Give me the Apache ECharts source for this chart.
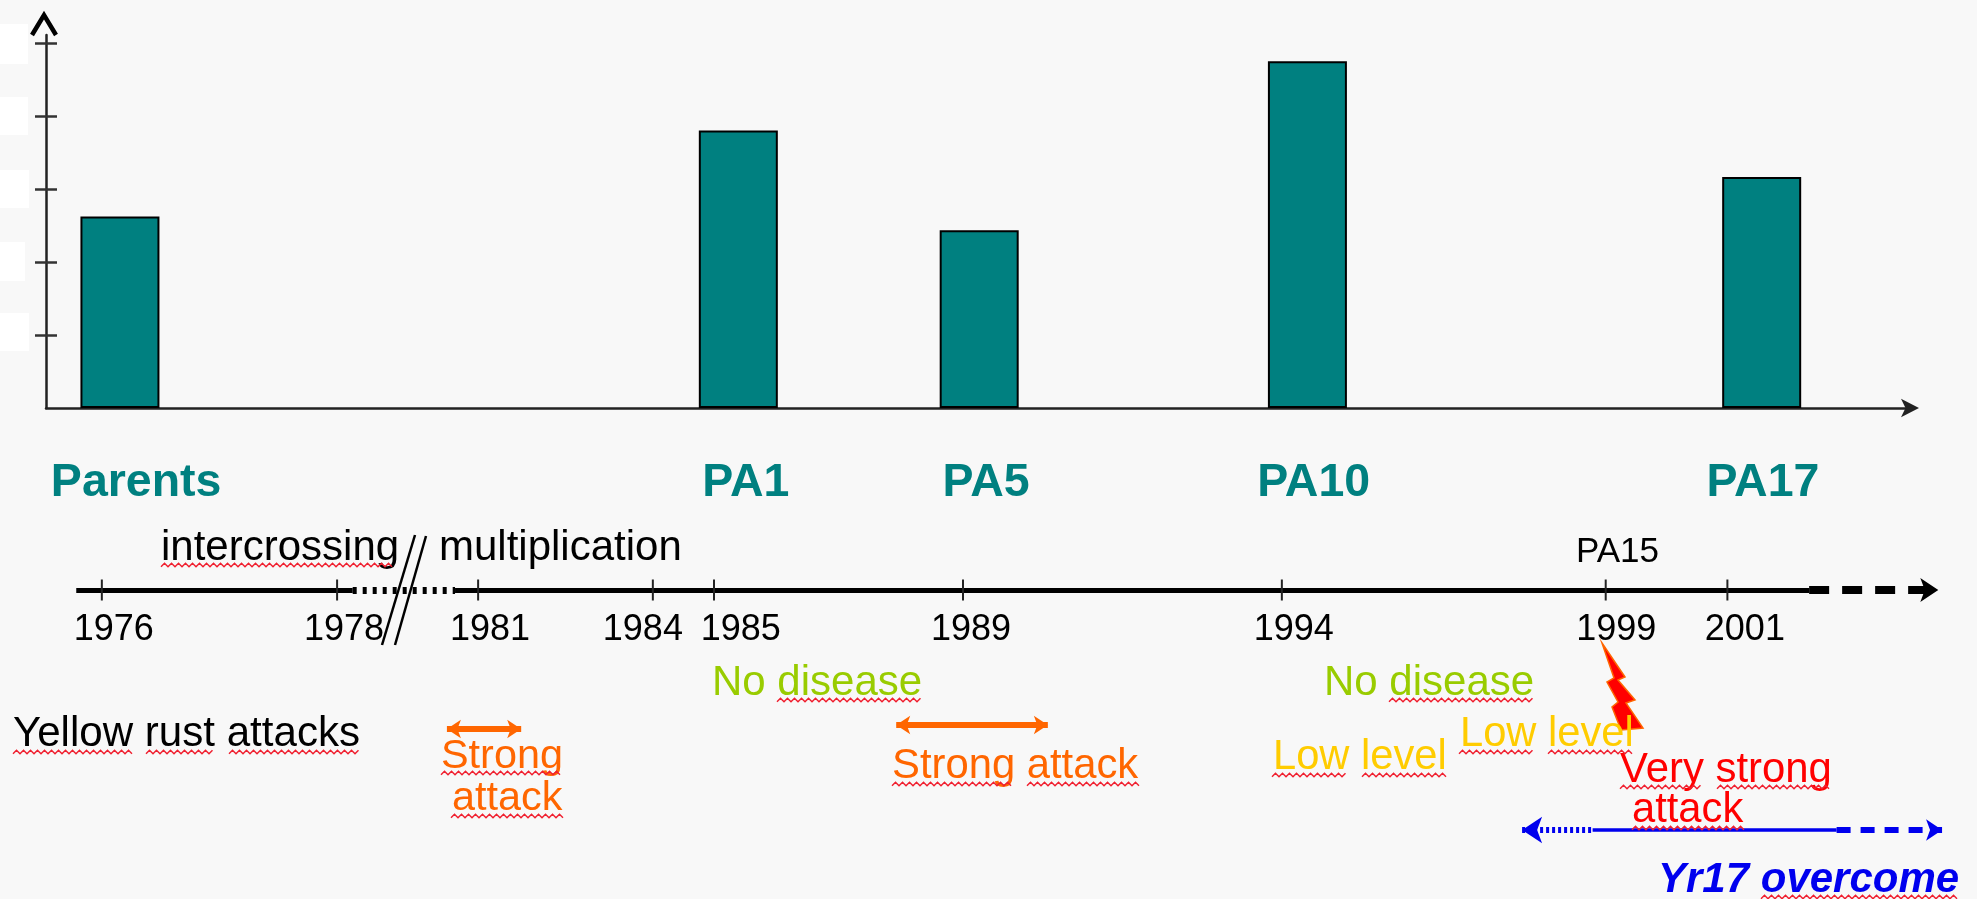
<!DOCTYPE html>
<html>
<head>
<meta charset="utf-8">
<style>
  html, body { margin: 0; padding: 0; background: #f8f8f8; }
  #chart { width: 1977px; height: 899px; }
  /* the reference is a soft screenshot */
  #chart canvas { filter: blur(0.6px); }
</style>
<script src="https://cdn.jsdelivr.net/npm/echarts@6/dist/echarts.min.js"></script>
</head>
<body>
<div id="chart"></div>
<script>
// bars, x read in years on the linear part of the time axis
const generations = ['Parents', 'PA1', 'PA5', 'PA10', 'PA17'];
const generationYears = [1975.48, 1985.39, 1989.25, 1994.51, 2001.79];
const generationValues = [2.63, 3.81, 2.44, 4.76, 3.17];
const generationLabelYears = [1975.74, 1985.51, 1989.36, 1994.61, 2001.81];

// timeline ticks (the axis is hand drawn, so ticks do not fall exactly on their year)
const tickLabels = ['1976', '1978', '1981', '1984', '1985', '1989', '1994', '1999', '2001'];
const tickYears = [1975.19, 1978.96, 1981.22, 1984.02, 1985, 1988.99, 1994.1, 1999.29, 2001.24];
const tickLabelYears = [1975.38, 1979.07, 1981.41, 1983.86, 1985.43, 1989.12, 1994.29, 1999.46, 2001.52];
const yTicks = [1, 2, 3, 4, 5];

// periods drawn as arrows under the timeline
const strongAttackEarly = [1980.72, 1981.91];
const strongAttackLate = [1987.92, 1990.35];
const timelineSolidA = [1974.78, 1979.21];
const timelineDotted = [1979.21, 1980.85];
const timelineSolidB = [1980.85, 2002.55];
const timelineDashed = [2002.55, 2004.62];
const overcomeDotted = [1997.95, 1999.08];
const overcomeSolid = [1999.08, 2002.99];
const overcomeDashed = [2002.99, 2004.68];

const FONT = '"Liberation Sans", Arial, sans-serif';
const TEAL = '#008080';
const ORANGE = '#ff6600';
const GREEN = '#99cc00';
const YELLOW = '#ffcc00';
const RED = '#ff0000';
const BLUE = '#0000ee';

const LANE_GENERATION = 0.34;
const LANE_TIMELINE = 3;
const LANE_TICK_LABEL = 4;
const LANE_OVERCOME = 9;

const chart = echarts.init(document.getElementById('chart'));

// one straight piece of the lower panel, arrow head optional
function period(range, lane, color, width, dash, heads, headSize) {
  return {
    type: 'line',
    xAxisIndex: 1,
    yAxisIndex: 2,
    data: [],
    markLine: {
      silent: true,
      animation: false,
      symbol: heads || ['none', 'none'],
      symbolSize: headSize || 10,
      label: { show: false },
      lineStyle: { color: color, width: width, type: dash || 'solid', opacity: 1 },
      data: [[{ coord: [range[0], lane] }, { coord: [range[1], lane] }]],
    },
  };
}

function text(str, x, baseline, color, size, extra) {
  return {
    type: 'text',
    z: 20,
    style: {
      text: str,
      x: x,
      y: baseline - 0.275 * size,
      fill: color,
      font: (extra || '') + ' ' + size + 'px ' + FONT,
      verticalAlign: 'middle',
    },
  };
}

// red spell-check squiggle
function squiggle(x0, x1, y) {
  const points = [];
  let up = false;
  for (let x = x0; x < x1; x += 3.5) {
    points.push([x, up ? y - 1.8 : y + 1.8]);
    up = !up;
  }
  return {
    type: 'polyline',
    z: 21,
    shape: { points: points },
    style: { stroke: '#f02030', lineWidth: 1.4, fill: null },
  };
}

function whiteBox(y, h, w) {
  return { type: 'rect', z: 1, shape: { x: 0, y: y, width: w, height: h }, style: { fill: '#ffffff' } };
}

const graphics = [
  whiteBox(24, 40, 28),
  whiteBox(97, 38, 28),
  whiteBox(170, 38, 29),
  whiteBox(242, 39, 25),
  whiteBox(313, 38, 29),
  // open arrow head of the y axis
  {
    type: 'polyline',
    z: 5,
    shape: { points: [[32, 35], [44, 15], [56, 35]] },
    style: { stroke: '#000', lineWidth: 4.5, fill: null },
  },
  // axis break
  { type: 'line', z: 6, shape: { x1: 415, y1: 535, x2: 382, y2: 645 }, style: { stroke: '#000', lineWidth: 2.5 } },
  { type: 'line', z: 6, shape: { x1: 426, y1: 536, x2: 395, y2: 645 }, style: { stroke: '#000', lineWidth: 2.5 } },
  // lightning
  {
    type: 'polygon',
    z: 10,
    shape: {
      points: [[1602, 643], [1625, 677], [1618, 680], [1635, 700], [1626, 703], [1643, 728], [1621, 730],
        [1612, 707], [1618, 702], [1607, 682], [1614, 678]],
    },
    style: { fill: RED, stroke: ORANGE, lineWidth: 1.5 },
  },
  text('intercrossing', 161, 560, '#000', 42),
  text('multiplication', 439, 560, '#000', 42),
  text('PA15', 1576, 562, '#000', 35),
  text('Yellow rust attacks', 13, 746, '#000', 42.1),
  text('Strong', 441, 768, ORANGE, 41.4),
  text('attack', 452, 810, ORANGE, 41.4),
  text('No disease', 712, 695, GREEN, 42),
  text('No disease', 1324, 695, GREEN, 42),
  text('Strong attack', 892, 778, ORANGE, 41.8),
  text('Low level', 1273, 769, YELLOW, 41.7),
  text('Low level', 1460, 746, YELLOW, 41.7),
  text('Very strong', 1620, 782, RED, 41.9),
  text('attack', 1632, 822, RED, 41.7),
  text('Yr17 overcome', 1658, 892, BLUE, 42, 'italic bold'),
  squiggle(161, 395, 565),
  squiggle(13, 133, 752),
  squiggle(146, 215, 752),
  squiggle(229, 361, 752),
  squiggle(441, 563, 773),
  squiggle(451, 564, 816),
  squiggle(777, 921, 700),
  squiggle(1389, 1533, 700),
  squiggle(892, 1013, 784),
  squiggle(1027, 1140, 784),
  squiggle(1272, 1349, 775),
  squiggle(1362, 1447, 775),
  squiggle(1459, 1535, 752),
  squiggle(1548, 1634, 752),
  squiggle(1620, 1704, 787),
  squiggle(1717, 1832, 787),
  squiggle(1632, 1745, 828),
  squiggle(1761, 1959, 897),
];

chart.setOption({
  animation: false,
  backgroundColor: '#f8f8f8',
  grid: [
    { left: 46, right: 64, top: 35, bottom: 491 },
    { left: 0, right: 0, top: 470, height: 400 },
  ],
  xAxis: [
    {
      type: 'value',
      gridIndex: 0,
      min: 1974.295,
      max: 2004.215,
      axisLine: {
        onZero: false,
        symbol: ['none', 'arrow'],
        symbolSize: [14, 18],
        symbolOffset: [0, 6],
        lineStyle: { color: '#222', width: 2.5 },
      },
      axisTick: { show: false },
      axisLabel: { show: false },
      splitLine: { show: false },
    },
    {
      type: 'value',
      gridIndex: 1,
      min: 1973.558,
      max: 2005.24,
      show: false,
    },
  ],
  yAxis: [
    {
      type: 'value',
      gridIndex: 0,
      min: 0,
      max: 5.12,
      interval: 1,
      axisLine: { show: true, lineStyle: { color: '#222', width: 2.5 } },
      axisTick: { show: true, customValues: yTicks, length: 11, lineStyle: { color: '#333', width: 2.5 } },
      axisLabel: { show: false },
      splitLine: { show: false },
    },
    {
      type: 'value',
      gridIndex: 0,
      position: 'left',
      min: 0,
      max: 5.12,
      interval: 1,
      axisLine: { show: false },
      axisTick: { show: true, customValues: yTicks, inside: true, length: 11, lineStyle: { color: '#333', width: 2.5 } },
      axisLabel: { show: false },
      splitLine: { show: false },
    },
    {
      type: 'value',
      gridIndex: 1,
      min: 0,
      max: 10,
      inverse: true,
      show: false,
    },
  ],
  series: [
    {
      type: 'bar',
      xAxisIndex: 0,
      yAxisIndex: 0,
      barWidth: 79,
      itemStyle: { color: TEAL, borderColor: '#000', borderWidth: 2 },
      data: generationYears.map((x, i) => [x, generationValues[i]]),
    },
    {
      type: 'scatter',
      xAxisIndex: 1,
      yAxisIndex: 2,
      symbolSize: 1,
      itemStyle: { color: 'transparent', opacity: 1 },
      label: {
        show: true,
        position: 'inside',
        formatter: (p) => generations[p.dataIndex],
        color: TEAL,
        fontFamily: FONT,
        fontWeight: 'bold',
        fontSize: 46.5,
      },
      data: generationLabelYears.map((x) => [x, LANE_GENERATION]),
    },
    {
      type: 'scatter',
      xAxisIndex: 1,
      yAxisIndex: 2,
      symbol: 'rect',
      symbolSize: [2, 21],
      z: 5,
      itemStyle: { color: '#222', opacity: 1 },
      data: tickYears.map((x) => [x, LANE_TIMELINE]),
    },
    {
      type: 'scatter',
      xAxisIndex: 1,
      yAxisIndex: 2,
      symbolSize: 1,
      itemStyle: { color: 'transparent', opacity: 1 },
      label: {
        show: true,
        position: 'inside',
        formatter: (p) => tickLabels[p.dataIndex],
        color: '#000',
        fontFamily: FONT,
        fontSize: 36,
      },
      data: tickLabelYears.map((x) => [x, LANE_TICK_LABEL]),
    },
    period(timelineSolidA, LANE_TIMELINE, '#000', 5),
    period(timelineDotted, LANE_TIMELINE, '#000', 7, [4, 6]),
    period(timelineSolidB, LANE_TIMELINE, '#000', 5),
    period(timelineDashed, LANE_TIMELINE, '#000', 8, [20, 13], ['none', 'arrow'], 18),
    period(strongAttackEarly, 6.475, ORANGE, 6, 'solid', ['arrow', 'arrow'], 14),
    period(strongAttackLate, 6.375, ORANGE, 6, 'solid', ['arrow', 'arrow'], 14),
    period(overcomeDotted, LANE_OVERCOME, BLUE, 6, [3, 3], ['arrow', 'none'], 20),
    period(overcomeSolid, LANE_OVERCOME, BLUE, 3.5),
    period(overcomeDashed, LANE_OVERCOME, BLUE, 6, [14, 10], ['none', 'arrow'], 16),
  ],
  graphic: graphics,
});
</script>
</body>
</html>
